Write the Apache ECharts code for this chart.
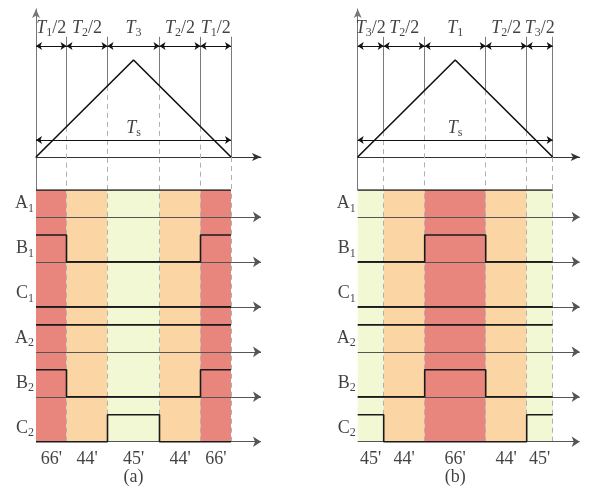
<!DOCTYPE html>
<html><head><meta charset="utf-8">
<script src="https://cdn.jsdelivr.net/npm/echarts@6/dist/echarts.min.js"></script>
<style>html,body{margin:0;padding:0;background:#fff}#c{width:592px;height:492px}</style>
</head><body><div id="c"></div>
<script>
// ---------------- data ----------------
const rowNames = ['A1', 'B1', 'C1', 'A2', 'B2', 'C2'];
const periodLabel = 'Ts';

// panel (a)
const segWidthsA = [30.5, 41, 52, 41, 30.5];
const segLabelsA = ['T1/2', 'T2/2', 'T3', 'T2/2', 'T1/2'];
const vectorsA = ["66'", "44'", "45'", "44'", "66'"];
const A1a = [1, 1, 1, 1, 1];
const B1a = [1, 0, 0, 0, 1];
const C1a = [0, 0, 0, 0, 0];
const A2a = [1, 1, 1, 1, 1];
const B2a = [1, 0, 0, 0, 1];
const C2a = [0, 0, 1, 0, 0];
const captionA = '(a)';

// panel (b)
const segWidthsB = [26, 41, 61, 41, 26];
const segLabelsB = ['T3/2', 'T2/2', 'T1', 'T2/2', 'T3/2'];
const vectorsB = ["45'", "44'", "66'", "44'", "45'"];
const A1b = [1, 1, 1, 1, 1];
const B1b = [0, 0, 1, 0, 0];
const C1b = [0, 0, 0, 0, 0];
const A2b = [1, 1, 1, 1, 1];
const B2b = [0, 0, 1, 0, 0];
const C2b = [1, 0, 0, 0, 1];
const captionB = '(b)';

// ---------------- styles / layout ----------------
const vecColor = { "66'": '#E8857D', "44'": '#FCD5A5', "45'": '#F3F8D4' };
const FONT = 'Liberation Serif';
const INK = '#111';
const layout = [{ left: 36, xMax: 225 }, { left: 357.7, xMax: 222 }];
const TOPY = { min: -0.34, max: 1.526, dim: 1.144, label: 1.33, lineTop: 1.24, ts: 0.175, tsLabel: 0.3 };
const LOWY = { min: -0.9, max: 5.6, high: 0.6, label: 0.3, vec: -0.385, cap: -0.8 };
const PX_LOW = 44.95;

const rich = {
  it: { fontFamily: FONT, fontSize: 18, fontStyle: 'italic', color: INK },
  rm: { fontFamily: FONT, fontSize: 18, color: INK },
  sub: { fontFamily: FONT, fontSize: 12, color: INK, padding: [10, 0, 0, 0] }
};
function richText(s) {
  if (/^\(/.test(s) || /'/.test(s)) return '{rm|' + s + '}';
  const head = s[0], sub = s[1], rest = s.slice(2);
  return '{' + (head === 'T' ? 'it' : 'rm') + '|' + head + '}{sub|' + sub + '}' + (rest ? '{rm|' + rest + '}' : '');
}

const panels = [
  { widths: segWidthsA, labels: segLabelsA, vectors: vectorsA, sig: [A1a, B1a, C1a, A2a, B2a, C2a], caption: captionA },
  { widths: segWidthsB, labels: segLabelsB, vectors: vectorsB, sig: [A1b, B1b, C1b, A2b, B2b, C2b], caption: captionB }
];

const grids = [], xAxes = [], yAxes = [], series = [];

panels.forEach((p, pi) => {
  const L = layout[pi];
  const bounds = [0];
  p.widths.forEach(w => bounds.push(bounds[bounds.length - 1] + w));
  const Ts = bounds[bounds.length - 1];
  const tri = x => (x <= Ts / 2 ? x / (Ts / 2) : (Ts - x) / (Ts / 2));
  const gTop = pi * 2, gLow = pi * 2 + 1;

  grids.push({ left: L.left, width: L.xMax, top: 9, height: 181 });
  grids.push({ left: L.left, width: L.xMax, top: 190, height: (LOWY.max - LOWY.min) * PX_LOW });

  xAxes.push({
    gridIndex: gTop, type: 'value', min: 0, max: L.xMax,
    axisLine: { show: true, onZero: true, symbol: ['none', 'arrow'], symbolSize: [6, 9], lineStyle: { color: '#333', width: 1 } },
    axisTick: { show: false }, axisLabel: { show: false }, splitLine: { show: false }
  });
  xAxes.push({ gridIndex: gLow, type: 'value', min: 0, max: L.xMax, show: false });
  yAxes.push({
    gridIndex: gTop, type: 'value', min: TOPY.min, max: TOPY.max,
    axisLine: { show: true, onZero: false, symbol: ['none', 'arrow'], symbolSize: [6, 9], lineStyle: { color: '#777', width: 1 } },
    axisTick: { show: false }, axisLabel: { show: false }, splitLine: { show: false }
  });
  yAxes.push({ gridIndex: gLow, type: 'value', min: LOWY.min, max: LOWY.max, show: false });

  const onTop = { xAxisIndex: gTop, yAxisIndex: gTop };
  const onLow = { xAxisIndex: gLow, yAxisIndex: gLow };

  // ---- top section ----
  const inner = bounds.slice(1);
  series.push(Object.assign({
    type: 'lines', coordinateSystem: 'cartesian2d', clip: false, silent: true, z: 2,
    lineStyle: { color: '#7a7a7a', width: 1, opacity: 1 }, symbol: 'none',
    data: inner.map(b => ({ coords: [[b, tri(b)], [b, TOPY.lineTop]] }))
  }, onTop));
  series.push(Object.assign({
    type: 'lines', coordinateSystem: 'cartesian2d', clip: false, silent: true, z: 2,
    lineStyle: { color: '#b0b0b0', width: 1, type: [5, 4], opacity: 1 }, symbol: 'none',
    data: inner.map(b => ({ coords: [[b, tri(b)], [b, TOPY.min]] }))
  }, onTop));
  series.push(Object.assign({
    type: 'line', symbol: 'none', silent: true, z: 4,
    lineStyle: { color: INK, width: 1.6 },
    data: [[0, 0], [Ts / 2, 1], [Ts, 0]]
  }, onTop));
  const dims = [];
  for (let i = 0; i < bounds.length - 1; i++) dims.push({ coords: [[bounds[i], TOPY.dim], [bounds[i + 1], TOPY.dim]] });
  dims.push({ coords: [[0, TOPY.ts], [Ts, TOPY.ts]] });
  series.push(Object.assign({
    type: 'lines', coordinateSystem: 'cartesian2d', clip: false, silent: true, z: 5,
    lineStyle: { color: INK, width: 1, opacity: 1 }, symbol: ['arrow', 'arrow'], symbolSize: 6,
    data: dims
  }, onTop));
  const topLabels = p.labels.map((t, i) => ({ value: [(bounds[i] + bounds[i + 1]) / 2, TOPY.label], name: t }));
  topLabels.push({ value: [Ts / 2, TOPY.tsLabel], name: periodLabel });
  series.push(Object.assign({
    type: 'scatter', symbolSize: 0, silent: true, z: 6,
    label: { show: true, position: 'inside', formatter: d => richText(d.name), rich },
    data: topLabels
  }, onTop));

  // ---- lower section ----
  const cols = p.vectors.map((v, i) => [bounds[i], bounds[i + 1], i]);
  series.push(Object.assign({
    type: 'custom', silent: true, z: 1,
    renderItem: (params, api) => {
      const a = api.coord([api.value(0), LOWY.max]);
      const b = api.coord([api.value(1), 0]);
      return { type: 'rect', shape: { x: a[0], y: a[1], width: b[0] - a[0], height: b[1] - a[1] },
               style: { fill: vecColor[p.vectors[api.value(2)]] } };
    },
    data: cols
  }, onLow));
  series.push(Object.assign({
    type: 'lines', coordinateSystem: 'cartesian2d', clip: false, silent: true, z: 2,
    lineStyle: { color: '#b0b0b0', width: 1, type: [5, 4], opacity: 1 }, symbol: 'none',
    data: inner.map(b => ({ coords: [[b, 0], [b, LOWY.max]] }))
  }, onLow));
  const nRows = rowNames.length;
  const rowBase = i => nRows - 1 - i;
  series.push(Object.assign({
    type: 'lines', coordinateSystem: 'cartesian2d', clip: false, silent: true, z: 3,
    lineStyle: { color: '#555', width: 1, opacity: 1 }, symbol: ['none', 'arrow'], symbolSize: 8,
    data: rowNames.map((r, i) => ({ coords: [[0, rowBase(i)], [L.xMax, rowBase(i)]] }))
  }, onLow));
  p.sig.forEach((s, i) => {
    const base = rowBase(i);
    const pts = [];
    s.forEach((v, k) => {
      const y = base + v * LOWY.high;
      pts.push([bounds[k], y]);
      pts.push([bounds[k + 1], y]);
    });
    series.push(Object.assign({
      type: 'line', symbol: 'none', silent: true, z: 5,
      lineStyle: { color: '#1a1a1a', width: 1.6 },
      data: pts
    }, onLow));
  });
  series.push(Object.assign({
    type: 'scatter', symbolSize: 0, silent: true, z: 6,
    label: { show: true, position: 'left', distance: 2, formatter: d => richText(d.name), rich },
    data: rowNames.map((r, i) => ({ value: [0, rowBase(i) + LOWY.label], name: r }))
  }, onLow));
  const bottom = p.vectors.map((v, i) => ({ value: [(bounds[i] + bounds[i + 1]) / 2, LOWY.vec], name: v }));
  bottom.push({ value: [Ts / 2, LOWY.cap], name: p.caption });
  series.push(Object.assign({
    type: 'scatter', symbolSize: 0, silent: true, z: 6,
    label: { show: true, position: 'inside', formatter: d => richText(d.name), rich },
    data: bottom
  }, onLow));
});

const chart = echarts.init(document.getElementById('c'), null, { renderer: 'canvas' });
chart.setOption({
  animation: false,
  backgroundColor: '#fff',
  grid: grids, xAxis: xAxes, yAxis: yAxes, series
});
</script>
</body></html>
